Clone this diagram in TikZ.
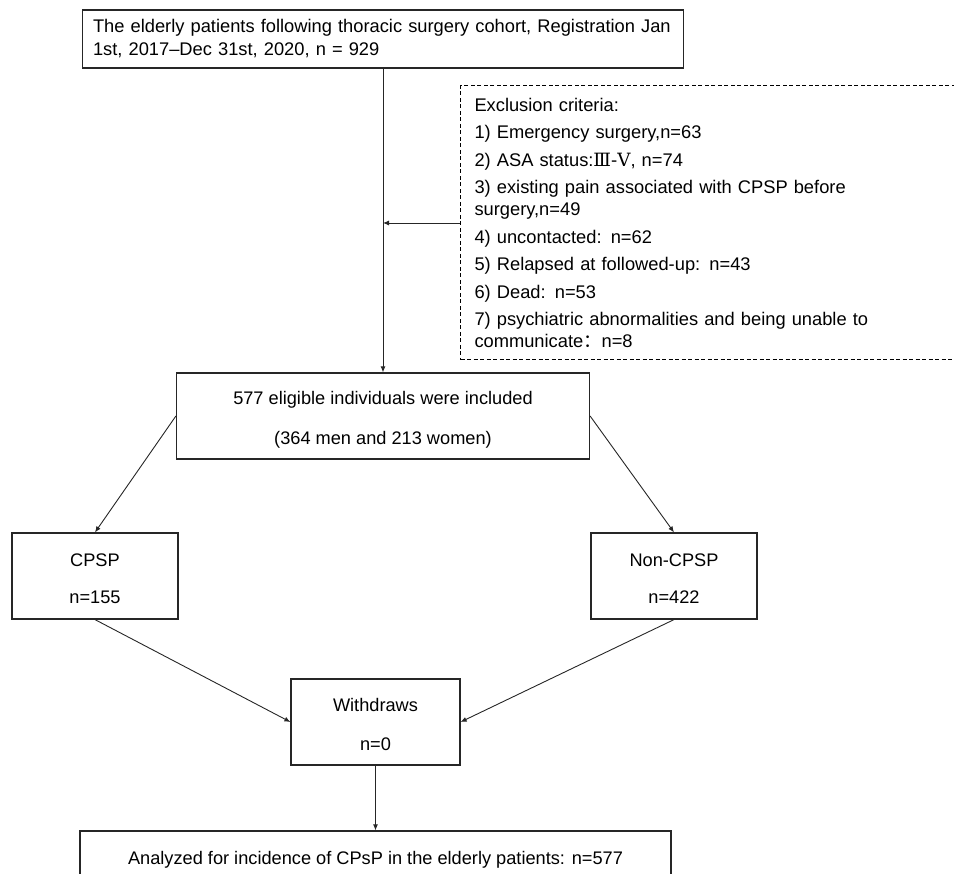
\documentclass[tikz,border=0pt]{standalone}
\usepackage{fontspec}
\setmainfont{Liberation Sans}
\newfontfamily\cjk{Noto Sans CJK SC}
\newfontfamily\romnum{DejaVu Serif}
\usetikzlibrary{arrows.meta}
\newcommand{\sx}{\rule[-5pt]{0pt}{28pt}}
\begin{document}
\begin{tikzpicture}[x=1pt,y=-1pt,
  box/.style={draw=black!85,line width=1.2pt,rectangle,inner sep=0pt},
  dbox/.style={draw=black,line width=1pt,dash pattern=on 4pt off 2.5pt,rectangle,inner sep=0pt},
  arr/.style={draw=black!85,line width=0.9pt,-{Latex[length=6pt,width=5pt]}},
  two/.style={box,align=center,font=\fontsize{18.2}{38}\selectfont},
]
\useasboundingbox (0,0) rectangle (954,874);
\clip (0,0) rectangle (954,874);
\node[box,minimum width=601pt,minimum height=58pt,text width=580pt,align=left,font=\fontsize{18.3}{23}\selectfont] (top) at (383,39) {The elderly patients following thoracic surgery cohort, Registration Jan\\1st, 2017–Dec 31st, 2020, n = 929};
\node[dbox,anchor=west,minimum width=520pt,minimum height=274pt,text width=492pt,align=left,font=\fontsize{18.3}{22}\selectfont] (excl) at (460,223) {Exclusion criteria:\\[5.5pt]
1) Emergency surgery,n=63\\[5.5pt]
2) ASA status:{\romnum Ⅲ-Ⅴ}, n=74\\[5.5pt]
3) existing pain associated with CPSP before\\
surgery,n=49\\[5.5pt]
4) uncontacted: n=62\\[5.5pt]
5) Relapsed at followed-up: n=43\\[5.5pt]
6) Dead: n=53\\[5.5pt]
7) psychiatric abnormalities and being unable to\\
communicate{\cjk ：}n=8};
\node[two,minimum width=413pt,minimum height=86pt,font=\fontsize{18.2}{40}\selectfont] (incl) at (383,416) {\sx 577 eligible individuals were included\\\sx(364 men and 213 women)};
\node[two,minimum width=166pt,minimum height=86pt] (cpsp) at (95,576) {\sx CPSP\\\sx n=155};
\node[two,minimum width=166pt,minimum height=86pt] (non) at (674,576) {\sx Non-CPSP\\\sx n=422};
\node[two,minimum width=169pt,minimum height=86pt,font=\fontsize{18.2}{39}\selectfont] (wd) at (375.5,722) {\sx Withdraws\\\sx n=0};
\node[box,minimum width=591pt,minimum height=54pt,font=\fontsize{18.2}{22}\selectfont,text height=13pt,text depth=0pt] (ana) at (375.5,858) {Analyzed for incidence of CPsP in the elderly patients: n=577};
\coordinate (j) at (top.south |- excl.west);
\draw[arr] (top.south) -- (incl.north);
\draw[arr] (excl.west) -- (j);
\draw[arr] (incl.west) -- (cpsp.north);
\draw[arr] (incl.east) -- (non.north);
\draw[arr] (cpsp.south) -- (wd.west);
\draw[arr] (non.south) -- (wd.east);
\draw[arr] (wd.south) -- (ana.north);
\end{tikzpicture}
\end{document}
